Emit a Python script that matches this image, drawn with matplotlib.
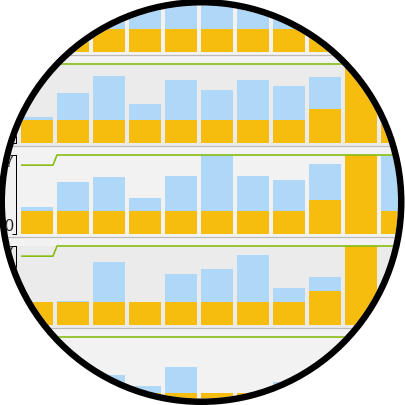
import matplotlib
matplotlib.use('Agg')
import matplotlib.pyplot as plt
from matplotlib.path import Path
from matplotlib.patches import PathPatch, Circle
import numpy as np

# ---------------- data ----------------
categories = list(range(11))
tick_values = [0, 7]
tick_labels = ['0', '7']

orange_a = [2.04, 2.04, 2.04, 2.04, 2.04, 2.04, 2.04, 2.04, 3.01, 7.0, 2.0]
blue_a   = [5.0, 6.0, 6.6, 6.8, 7.0, 7.0, 6.6, 6.4, 5.8, 7.0, 2.5]
green_a  = [7, 7, 7, 7, 7, 7, 7, 7, 7, 7, 7]

orange_b = [2.04, 2.04, 2.04, 2.04, 2.04, 2.04, 2.04, 2.04, 3.01, 7.0, 2.0]
blue_b   = [2.3, 4.43, 5.94, 3.46, 5.58, 4.70, 5.58, 5.05, 5.85, 7.0, 2.5]
green_b  = [7, 7, 7, 7, 7, 7, 7, 7, 7, 7, 7]

orange_c = [2.04, 2.04, 2.04, 2.04, 2.04, 2.04, 2.04, 2.04, 3.01, 7.0, 2.04]
blue_c   = [2.39, 4.6, 5.05, 3.19, 5.14, 7.0, 5.14, 4.78, 6.2, 7.0, 6.9]
green_c  = [6.1, 7, 7, 7, 7, 7, 7, 7, 7, 7, 7]

orange_d = [2.04, 2.04, 2.04, 2.04, 2.04, 2.04, 2.04, 2.04, 3.01, 7.0, 2.04]
blue_d   = [2.04, 2.13, 5.58, 2.04, 4.52, 4.96, 6.2, 3.28, 4.25, 7.0, 4.0]
green_d  = [6.1, 7, 7, 7, 7, 7, 7, 7, 7, 7, 7]

orange_e = [2.04, 2.04, 2.04, 2.04, 2.04, 2.04, 2.04, 2.04, 3.01, 7.0, 2.04]
blue_e   = [3.0, 3.5, 3.63, 2.66, 4.34, 2.04, 2.04, 3.01, 4.0, 7.0, 3.0]
green_e  = [7, 7, 7, 7, 7, 7, 7, 7, 7, 7, 7]

# (orange, blue, green, dark background)
rows = [
    (orange_a, blue_a, green_a, False),
    (orange_b, blue_b, green_b, True),
    (orange_c, blue_c, green_c, False),
    (orange_d, blue_d, green_d, True),
    (orange_e, blue_e, green_e, False),
]

# ---------------- style ----------------
plt.rcParams['font.family'] = ['Liberation Sans', 'DejaVu Sans']
W = H = 405
ORANGE = '#f6bd0f'
BLUE = '#afd7f7'
GREEN = '#84bb0c'
LIGHT_BG = '#f2f2f2'
DARK_BG = '#ebebeb'
GRAY = '#bababa'

PX_PER_UNIT = 79.0 / 7.0
PITCH = 36.0
BAR_W = 32.0 / PITCH
first_center_px = 37.0
xmin = (0 - first_center_px) / PITCH
xmax = (W - first_center_px) / PITCH
axis_x = (15.5 - first_center_px) / PITCH
PT = 0.72  # points per pixel at 100 dpi

fig = plt.figure(figsize=(W / 100, H / 100), dpi=100, facecolor=LIGHT_BG)

for k, (orange, blue, green, dark) in enumerate(rows):
    b = 52 + 91 * k          # pixel y of value 0
    top = b - 79             # pixel y of value 7
    bot = b + 3              # pixel y of gray separator
    ax = fig.add_axes([0, (H - bot) / H, 1, (bot - top) / H])
    ax.set_xlim(xmin, xmax)
    ax.set_ylim(-3 / PX_PER_UNIT, 7)
    ax.set_facecolor(DARK_BG if dark else LIGHT_BG)

    x = np.array(categories, dtype=float)
    ax.bar(x, blue, width=BAR_W, color=BLUE, zorder=2, linewidth=0)
    ax.bar(x, orange, width=BAR_W, color=ORANGE, zorder=3, linewidth=0)

    gx, gy = [], []
    for xi, gi in zip(x, green):
        gx += [xi - BAR_W / 2, xi + BAR_W / 2]
        gy += [gi, gi]
    gx[-1] = xmax + 1
    ax.plot(gx, gy, color=GREEN, lw=1.6 * PT, zorder=4, clip_on=False,
            solid_capstyle='butt')

    for s in ['top', 'right']:
        ax.spines[s].set_visible(False)
    ax.spines['bottom'].set_color(GRAY)
    ax.spines['bottom'].set_linewidth(1.2 * PT)
    ax.spines['left'].set_position(('data', axis_x))
    ax.spines['left'].set_bounds(0, 7)
    ax.spines['left'].set_color('black')
    ax.spines['left'].set_linewidth(1.0 * PT)
    ax.set_xticks([])
    ax.set_yticks(tick_values)
    ax.set_yticklabels(tick_labels)
    labs = ax.get_yticklabels()
    labs[0].set_verticalalignment('bottom')
    labs[1].set_verticalalignment('top')
    # labels lying beyond the picture edge (top row's "7", bottom row's "0")
    if top < 0:
        labs[1].set_visible(False)
    if b > H:
        labs[0].set_visible(False)
    ax.tick_params(axis='y', length=4 * PT, width=1.0 * PT, color='black',
                   pad=-1.5 * PT, labelsize=11.5, labelcolor='#222222')

# ---------------- lens mask and ring ----------------
ov = fig.add_axes([0, 0, 1, 1], zorder=10)
ov.set_xlim(0, W)
ov.set_ylim(H, 0)
ov.axis('off')
ov.patch.set_alpha(0)

cx, cy = 201.5, 202.0
r_in = 196.5
r_out = 203.0
t = np.linspace(0, 2 * np.pi, 400)
rect = [(-10, -10), (W + 10, -10), (W + 10, H + 10), (-10, H + 10), (-10, -10)]
circ = list(zip(cx + r_in * np.cos(-t), cy + r_in * np.sin(-t)))
verts = rect + circ
codes = [Path.MOVETO] + [Path.LINETO] * 3 + [Path.CLOSEPOLY] + \
        [Path.MOVETO] + [Path.LINETO] * (len(circ) - 2) + [Path.CLOSEPOLY]
ov.add_patch(PathPatch(Path(verts, codes), facecolor='white', edgecolor='none'))
ring_w = r_out - r_in
ov.add_patch(Circle((cx, cy), (r_in + r_out) / 2, fill=False, edgecolor='black',
                    lw=ring_w * PT))

fig.savefig('out.png', dpi=100, facecolor=fig.get_facecolor())
